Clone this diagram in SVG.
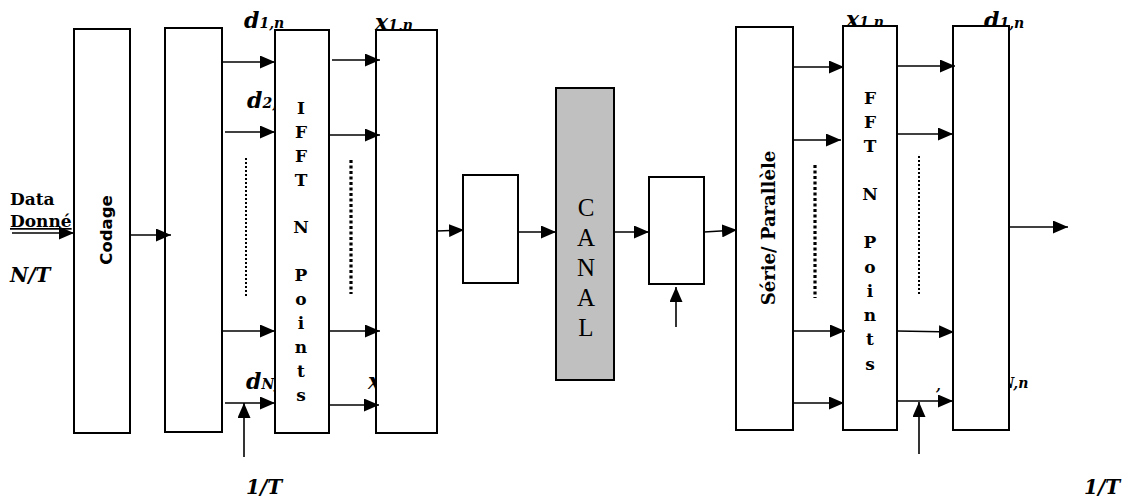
<svg xmlns="http://www.w3.org/2000/svg" width="1130" height="500" viewBox="0 0 1130 500">
<style>
.box{fill:#fff;stroke:#000;stroke-width:2}
.canal{fill:#c0c0c0;stroke:#000;stroke-width:2}
.ln{stroke:#000;stroke-width:1.6;fill:none}
.dots{stroke:#000;stroke-width:3.2;stroke-dasharray:3 2.5;fill:none}
.dotsThin{stroke:#000;stroke-width:2;stroke-dasharray:2 2;fill:none}
.lbl{font-family:"DejaVu Serif",serif;font-weight:bold;font-style:italic;font-size:22px}
.sub{font-size:14px}
.vt{font-family:"DejaVu Serif",serif;font-weight:bold;font-size:17px;text-anchor:middle}
.tx{font-family:"DejaVu Serif",serif;font-weight:bold;font-size:17px}
.cn{font-family:"Liberation Serif",serif;font-size:25px;text-anchor:middle}
</style>
<defs>
<marker id="ah" markerUnits="userSpaceOnUse" markerWidth="15" markerHeight="13" refX="15" refY="6.5" orient="auto">
<path d="M0,0 L15,6.5 L0,13 Z" fill="#000"/>
</marker>
</defs>
<g id="labels-hidden">
<text class="lbl" x="244" y="28">d<tspan class="sub">1,n</tspan></text>
<text class="lbl" x="247" y="108">d<tspan class="sub">2,n</tspan></text>
<text class="lbl" x="246" y="389">d<tspan class="sub">N,n</tspan></text>
<text class="lbl" x="375" y="30">x<tspan class="sub">1,n</tspan></text>
<text class="lbl" x="368" y="389">x<tspan class="sub">N,n</tspan></text>
<text class="lbl" x="846" y="27">x<tspan class="sub">1,n</tspan></text>
<text class="lbl" x="984" y="28">d<tspan class="sub">1,n</tspan></text>
<text class="lbl" x="986" y="388">d<tspan class="sub">N,n</tspan></text>
<text class="lbl" x="936" y="390"><tspan class="sub">,</tspan></text>
</g>
<g id="codage"><rect class="box" x="74" y="29" width="56" height="404"/>
<text transform="translate(112,230) rotate(-90)" text-anchor="middle" style="font-family:'DejaVu Sans',sans-serif;font-weight:bold;font-size:16.5px">Codage</text></g>
<g id="sp1"><rect class="box" x="165" y="28" width="57" height="404"/></g>
<g id="ifft"><rect class="box" x="275" y="30" width="54" height="403"/>
<g class="vt"><text x="301" y="114">I</text><text x="301" y="138">F</text><text x="301" y="162">F</text><text x="301" y="186">T</text><text x="301" y="233">N</text><text x="301" y="281">P</text><text x="301" y="305">o</text><text x="301" y="329">i</text><text x="301" y="353">n</text><text x="301" y="377">t</text><text x="301" y="401">s</text></g></g>
<g id="ps1"><rect class="box" x="376" y="30" width="61" height="403"/></g>
<g id="small1"><rect class="box" x="463" y="175" width="55" height="108"/></g>
<g id="canal"><rect class="canal" x="556" y="88" width="58" height="292"/>
<text class="cn" x="586" y="216">C</text><text class="cn" x="586" y="246">A</text><text class="cn" x="586" y="276">N</text><text class="cn" x="586" y="306">A</text><text class="cn" x="586" y="336">L</text></g>
<g id="small2"><rect class="box" x="649" y="177" width="55" height="107"/></g>
<g id="sp2"><rect class="box" x="736" y="27" width="57" height="403"/>
<text transform="translate(775,228) rotate(-90)" text-anchor="middle" class="tx" style="font-size:18px">Série/ Parallèle</text></g>
<g id="fft"><rect class="box" x="843" y="26" width="54" height="404"/>
<g class="vt"><text x="870" y="104">F</text><text x="870" y="128">F</text><text x="870" y="152">T</text><text x="870" y="200">N</text><text x="870" y="248">P</text><text x="870" y="273">o</text><text x="870" y="297">i</text><text x="870" y="321">n</text><text x="870" y="345">t</text><text x="870" y="370">s</text></g></g>
<g id="ps2"><rect class="box" x="953" y="26" width="56" height="404"/></g>
<g id="texts">
<text class="tx" x="10" y="205">Data</text>
<text class="tx" x="10" y="227" text-decoration="underline">Donné</text>
<text class="lbl" x="10" y="282" style="font-size:20px">N/T</text>
<text class="lbl" x="246" y="494" style="font-size:20px">1/T</text>
<text class="lbl" x="1084" y="494" style="font-size:20px">1/T</text>
</g>
<g id="connectors">
<line class="ln" x1="12" y1="233" x2="74" y2="233" marker-end="url(#ah)"/>
<line class="ln" x1="130" y1="235" x2="171" y2="235" marker-end="url(#ah)"/>
<line class="ln" x1="222" y1="62" x2="275" y2="62" marker-end="url(#ah)"/>
<line class="ln" x1="225" y1="132" x2="275" y2="132" marker-end="url(#ah)"/>
<line class="ln" x1="222" y1="331" x2="275" y2="331" marker-end="url(#ah)"/>
<line class="ln" x1="225" y1="403" x2="275" y2="403" marker-end="url(#ah)"/>
<line class="dotsThin" x1="246" y1="158" x2="246" y2="297"/>
<line class="ln" x1="244" y1="457" x2="244" y2="403" marker-end="url(#ah)"/>
<line class="ln" x1="332" y1="60" x2="380" y2="60" marker-end="url(#ah)"/>
<line class="ln" x1="330" y1="135" x2="380" y2="135" marker-end="url(#ah)"/>
<line class="ln" x1="330" y1="331" x2="380" y2="331" marker-end="url(#ah)"/>
<line class="ln" x1="330" y1="405" x2="379" y2="405" marker-end="url(#ah)"/>
<line class="dots" x1="351" y1="160" x2="351" y2="294"/>
<line class="ln" x1="437" y1="231" x2="464" y2="230" marker-end="url(#ah)"/>
<line class="ln" x1="518" y1="232" x2="556" y2="232" marker-end="url(#ah)"/>
<line class="ln" x1="614" y1="232" x2="649" y2="232" marker-end="url(#ah)"/>
<line class="ln" x1="704" y1="232" x2="737" y2="230" marker-end="url(#ah)"/>
<line class="ln" x1="676" y1="327" x2="676" y2="287" marker-end="url(#ah)"/>
<line class="ln" x1="793" y1="67" x2="844" y2="67" marker-end="url(#ah)"/>
<line class="ln" x1="793" y1="140" x2="841" y2="140" marker-end="url(#ah)"/>
<line class="ln" x1="793" y1="331" x2="845" y2="331" marker-end="url(#ah)"/>
<line class="ln" x1="793" y1="403" x2="844" y2="403" marker-end="url(#ah)"/>
<line class="dots" x1="815" y1="165" x2="815" y2="298"/>
<line class="ln" x1="897" y1="66" x2="955" y2="66" marker-end="url(#ah)"/>
<line class="ln" x1="898" y1="134" x2="953" y2="134" marker-end="url(#ah)"/>
<line class="ln" x1="897" y1="331" x2="954" y2="332" marker-end="url(#ah)"/>
<line class="ln" x1="898" y1="401" x2="953" y2="401" marker-end="url(#ah)"/>
<line class="dotsThin" x1="919" y1="156" x2="919" y2="294"/>
<line class="ln" x1="919" y1="454" x2="919" y2="402" marker-end="url(#ah)"/>
<line class="ln" x1="1009" y1="227" x2="1068" y2="227" marker-end="url(#ah)"/>
</g>
</svg>
